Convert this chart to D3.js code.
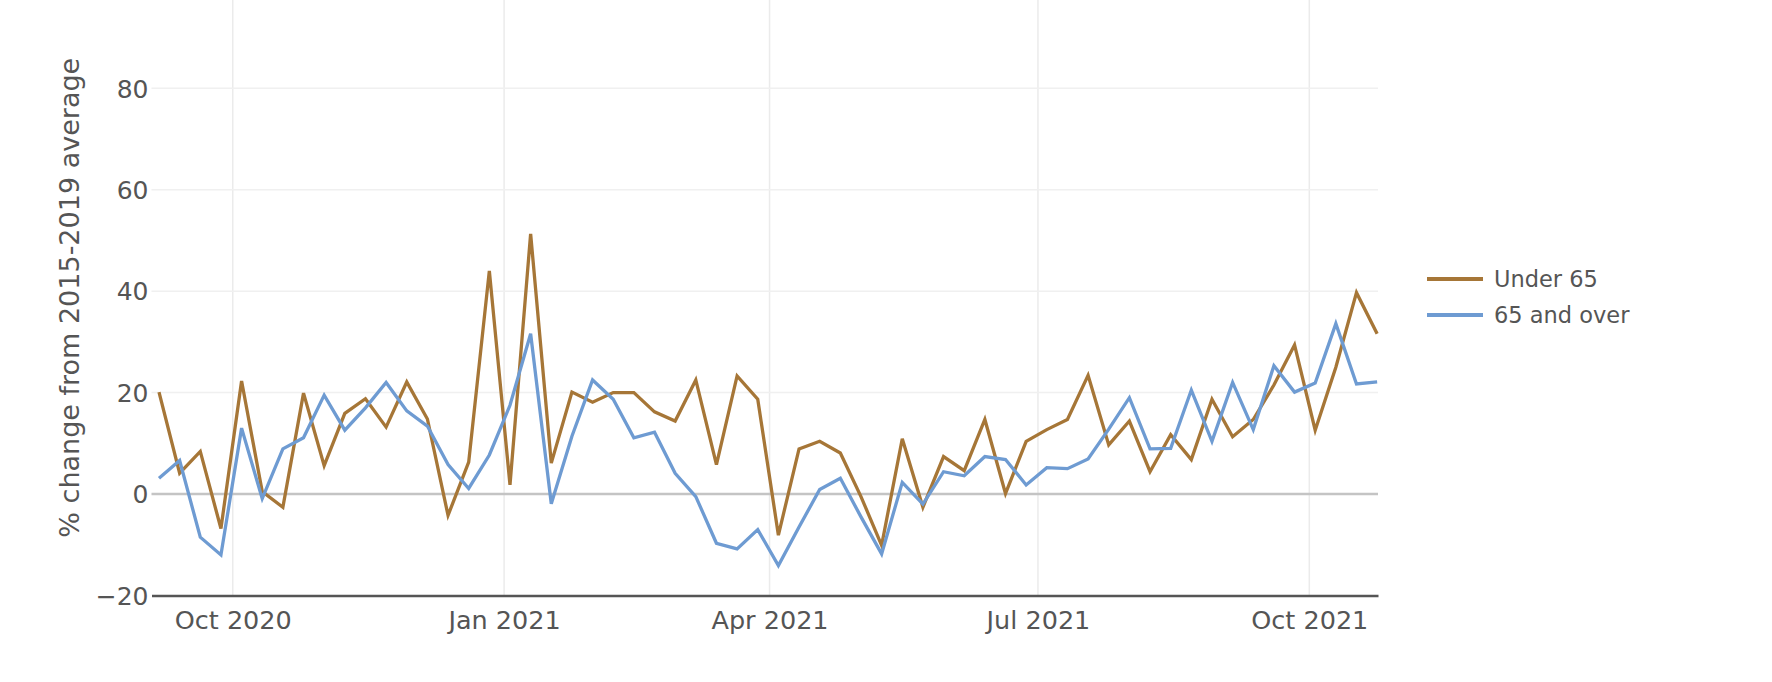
<!DOCTYPE html>
<html>
<head>
<meta charset="utf-8">
<script src="https://cdn.jsdelivr.net/npm/d3@7"></script>
<style>
  html, body { margin: 0; padding: 0; background: #fff; }
  svg { display: block; }
  text { font-family: Verdana, "DejaVu Sans", sans-serif; }
</style>
</head>
<body>
<svg id="chart" width="1772" height="682"></svg>
<script>
// ---- data ----
const startDate = "2020-09-06";
const seriesNames = ["Under 65", "65 and over"];
const seriesColors = ["#a67637", "#6e9bd2"];
const under65 = [20.1, 4.1, 8.4, -6.8, 22.3, 0.5, -2.6, 19.9, 5.6, 15.9,
  18.8, 13.2, 22.1, 14.8, -4.2, 6.3, 44.0, 1.8, 51.3, 6.1,
  20.1, 18.1, 20.0, 20.0, 16.2, 14.4, 22.5, 5.8, 23.3, 18.7,
  -8.1, 8.9, 10.4, 8.1, -0.5, -10.1, 10.9, -2.6, 7.4, 4.6,
  14.7, 0.1, 10.4, 12.7, 14.7, 23.4, 9.7, 14.4, 4.4, 11.7,
  6.8, 18.7, 11.3, 14.7, 21.5, 29.4, 12.6, 25.0, 39.7, 31.6];
const over65 = [3.1, 6.6, -8.5, -12.0, 13.0, -0.9, 8.9, 11.1, 19.5, 12.6,
  17.0, 22.0, 16.4, 13.4, 5.8, 1.1, 7.7, 17.5, 31.6, -1.9,
  11.4, 22.5, 18.7, 11.1, 12.2, 4.1, -0.5, -9.7, -10.8, -7.0,
  -14.1, -6.5, 0.9, 3.1, -4.5, -11.8, 2.3, -2.0, 4.4, 3.6,
  7.4, 6.8, 1.8, 5.2, 5.0, 6.9, 12.8, 19.0, 8.9, 9.0,
  20.5, 10.4, 22.0, 12.7, 25.3, 20.1, 21.9, 33.6, 21.7, 22.1];
const yTicks = [-20, 0, 20, 40, 60, 80];
const xTicks = ["2020-10-01", "2021-01-01", "2021-04-01", "2021-07-01", "2021-10-01"];
const xRange = ["2020-09-03T11:00:00Z", "2021-10-24T07:00:00Z"];
const yRange = [-20, 97.4];
const yTitle = "% change from 2015-2019 average";

// ---- layout ----
const plot = { left: 151.5, right: 1378, top: 0, bottom: 595.5 };
const svg = d3.select("#chart");

const dates = under65.map((_, i) => d3.utcDay.offset(new Date(startDate + "T00:00:00Z"), i * 7));
const x = d3.scaleUtc().domain(xRange.map(d => new Date(d))).range([plot.left, plot.right]);
const y = d3.scaleLinear().domain(yRange).range([plot.bottom, plot.top]);

// grid lines
const g = svg.append("g");
g.selectAll(".vgrid").data(xTicks).join("line")
  .attr("x1", d => x(new Date(d + "T00:00:00Z"))).attr("x2", d => x(new Date(d + "T00:00:00Z")))
  .attr("y1", plot.top).attr("y2", plot.bottom)
  .attr("stroke", "#ebebeb").attr("stroke-width", 1.5);
g.selectAll(".hgrid").data(yTicks.filter(v => v > 0)).join("line")
  .attr("x1", plot.left).attr("x2", plot.right)
  .attr("y1", d => y(d)).attr("y2", d => y(d))
  .attr("stroke", "#f0f0f0").attr("stroke-width", 1.5);
// zero line
g.append("line")
  .attr("x1", plot.left).attr("x2", plot.right)
  .attr("y1", y(0)).attr("y2", y(0))
  .attr("stroke", "#c4c4c4").attr("stroke-width", 2.5);

// y axis (labels only)
const yAxis = d3.axisLeft(y).tickValues(yTicks).tickSize(0).tickPadding(3)
  .tickFormat(d => d < 0 ? "\u2212" + Math.abs(d) : String(d));
const ya = svg.append("g").attr("transform", `translate(${plot.left},0)`).call(yAxis);
ya.select(".domain").remove();
ya.selectAll("text").attr("fill", "#555").style("font-size", "25px").attr("dy", "0.35em");

// x axis
const xAxis = d3.axisBottom(x).tickValues(xTicks.map(d => new Date(d + "T00:00:00Z")))
  .tickSize(0).tickPadding(15).tickFormat(d3.utcFormat("%b %Y"));
const xa = svg.append("g").attr("transform", `translate(0,${plot.bottom})`).call(xAxis);
xa.select(".domain").attr("stroke", "#555").attr("stroke-width", 2.5);
xa.selectAll("text").attr("fill", "#555").style("font-size", "25.5px");

// y title
svg.append("text")
  .attr("transform", `translate(70,${(y(yRange[1]) + plot.bottom) / 2}) rotate(-90)`)
  .attr("text-anchor", "middle").attr("dy", "0.35em")
  .attr("fill", "#555").style("font-size", "27px")
  .text(yTitle);

// lines
const line = d3.line().x((d, i) => x(dates[i])).y(d => y(d));
[under65, over65].forEach((vals, k) => {
  svg.append("path").datum(vals)
    .attr("fill", "none").attr("stroke", seriesColors[k])
    .attr("stroke-width", 3.3).attr("stroke-linejoin", "miter")
    .attr("d", line);
});

// legend
const leg = svg.append("g").attr("transform", "translate(1427,279)");
seriesNames.forEach((name, k) => {
  const row = leg.append("g").attr("transform", `translate(0,${k * 36})`);
  row.append("line").attr("x1", 0).attr("x2", 56).attr("y1", 0).attr("y2", 0)
    .attr("stroke", seriesColors[k]).attr("stroke-width", 3.8);
  row.append("text").attr("x", 67).attr("y", 0).attr("dy", "0.35em")
    .attr("fill", "#555").style("font-size", "22.5px").text(name);
});
</script>
</body>
</html>
